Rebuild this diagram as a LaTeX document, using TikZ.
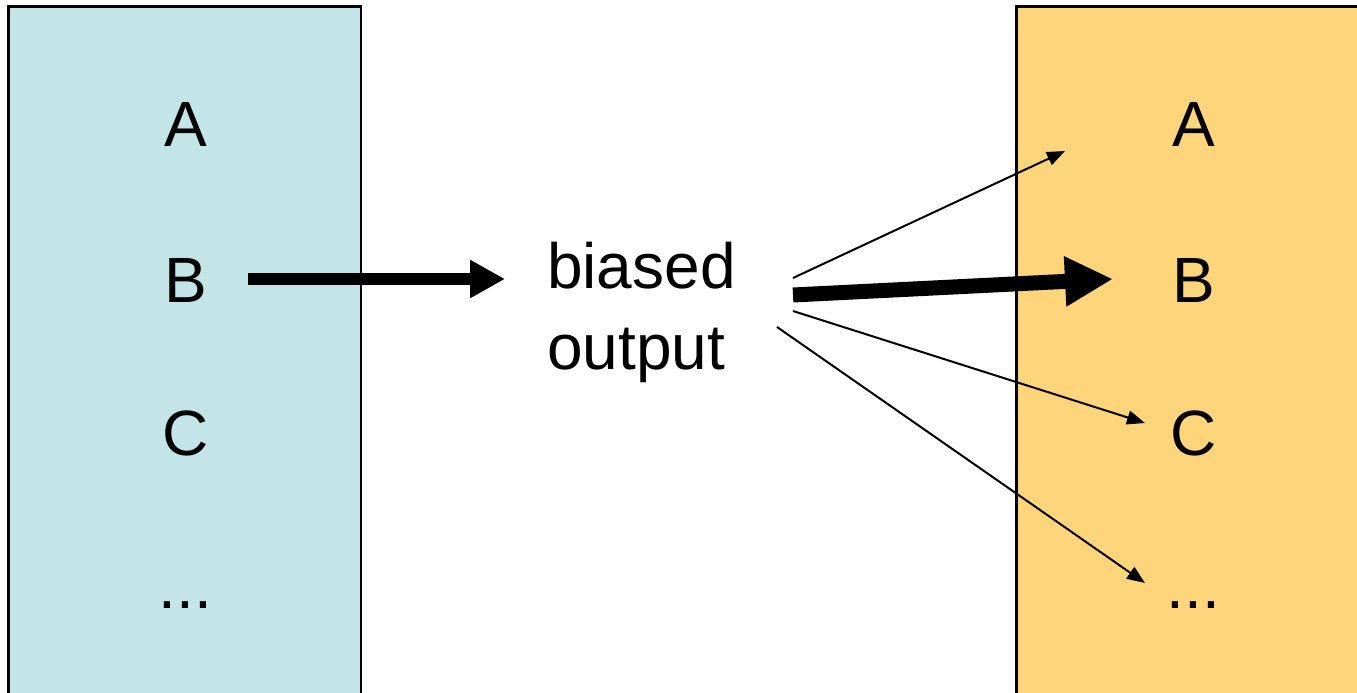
\documentclass[tikz,border=0pt]{standalone}
\usepackage{fontspec}
\setmainfont{Liberation Sans}
\usetikzlibrary{arrows.meta}
\definecolor{leftfill}{RGB}{196,229,231}
\definecolor{rightfill}{RGB}{254,213,122}
\begin{document}
\begin{tikzpicture}[x=1pt,y=-1pt,
  letter/.style={font=\fontsize{64}{81}\selectfont, inner sep=0pt, anchor=base},
  panel/.style={draw=black, line width=2.5pt},
  heavy/.style={line width=12pt, -{Triangle[length=35pt,width=36pt]}},
  biggest/.style={line width=15pt, -{Triangle[length=48pt,width=47pt]}},
  thin/.style={line width=2pt, -{Triangle[length=18pt,width=14pt]}}]
\useasboundingbox (0,0) rectangle (1357,693);
\clip (0,0) rectangle (1357,693);

% input and output panels
\filldraw[panel, fill=leftfill] (8.7,6.5) rectangle (360.8,720);
\filldraw[panel, fill=rightfill] (1016.7,6.5) rectangle (1420,720);

% left column
\node[letter] (lA) at (185.5,146) {A};
\node[letter] (lB) at (185.5,302) {B};
\node[letter] (lC) at (185.5,455) {C};
\node[letter] (lD) at (185.5,608) {...};

% right column
\node[letter] (rA) at (1193.5,146) {A};
\node[letter] (rB) at (1193.5,302) {B};
\node[letter] (rC) at (1193.5,455) {C};
\node[letter] (rD) at (1193.5,608) {...};

% middle label (base anchor sits on the last line)
\node[letter, anchor=base west, align=left] (out) at (547,369) {biased\\output};

% fan start and end points
\coordinate (sA) at (793,278);
\coordinate (sB) at (793,295);
\coordinate (sC) at (793,311);
\coordinate (sD) at (777,327);
\coordinate (eA) at (1065,151);
\coordinate (eB) at (1113,279);
\coordinate (eC) at (1145,423);
\coordinate (eD) at (1145,583);
\coordinate (hs) at (248,279);
\coordinate (he) at (505,279);

\draw[heavy] (hs) -- (he);
\draw[biggest] (sB) -- (eB);
\draw[thin] (sA) -- (eA);
\draw[thin] (sC) -- (eC);
\draw[thin] (sD) -- (eD);
\end{tikzpicture}
\end{document}
